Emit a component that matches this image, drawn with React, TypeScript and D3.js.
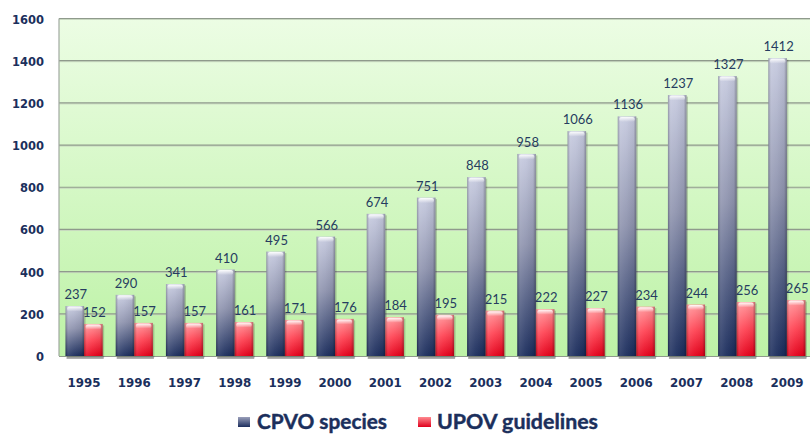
import React from "react";
import * as d3 from "d3";

const years = ["1995", "1996", "1997", "1998", "1999", "2000", "2001", "2002", "2003", "2004", "2005", "2006", "2007", "2008", "2009"];
const cpvoSpecies = [237, 290, 341, 410, 495, 566, 674, 751, 848, 958, 1066, 1136, 1237, 1327, 1412];
const upovGuidelines = [152, 157, 157, 161, 171, 176, 184, 195, 215, 222, 227, 234, 244, 256, 265];
const yTicks = [0, 200, 400, 600, 800, 1000, 1200, 1400, 1600];

const W = 810;
const H = 434;
const plot = { left: 59, right: 812, top: 18.5, bottom: 356 };

const navy = "#1b2f5c";

export default function App() {
  const y = d3.scaleLinear().domain([0, 1600]).range([plot.bottom, plot.top]);
  const x = d3.scaleBand<string>().domain(years).range([plot.left, plot.right]).paddingInner(0.26).paddingOuter(0.13);
  const bw = x.bandwidth() / 2;

  const series = [
    { key: "cpvo", values: cpvoSpecies, fill: "url(#gradCpvo)", off: 0 },
    { key: "upov", values: upovGuidelines, fill: "url(#gradUpov)", off: bw },
  ];

  return (
    <svg width={W} height={H} style={{ position: "absolute", left: 0, top: 0 }}>
      <defs>
        <linearGradient id="bg" x1="0" y1="0" x2="0" y2="1">
          <stop offset="0%" stopColor="#ecfde4" />
          <stop offset="100%" stopColor="#bdf2a6" />
        </linearGradient>
        <linearGradient id="gradCpvo" x1="0" y1="0" x2="0" y2="1">
          <stop offset="0%" stopColor="#c6cadf" />
          <stop offset="45%" stopColor="#8e93ae" />
          <stop offset="100%" stopColor="#1a2c5c" />
        </linearGradient>
        <linearGradient id="gradUpov" x1="0" y1="0" x2="0" y2="1">
          <stop offset="0%" stopColor="#ff9599" />
          <stop offset="50%" stopColor="#ff4454" />
          <stop offset="100%" stopColor="#e4001a" />
        </linearGradient>
        <linearGradient id="cyl" x1="0" y1="0" x2="1" y2="0">
          <stop offset="0%" stopColor="#000" stopOpacity={0.25} />
          <stop offset="15%" stopColor="#fff" stopOpacity={0.12} />
          <stop offset="45%" stopColor="#fff" stopOpacity={0.05} />
          <stop offset="85%" stopColor="#000" stopOpacity={0.05} />
          <stop offset="100%" stopColor="#000" stopOpacity={0.3} />
        </linearGradient>
        <linearGradient id="cap" x1="0" y1="0" x2="0" y2="1">
          <stop offset="0%" stopColor="#fff" stopOpacity={0.95} />
          <stop offset="100%" stopColor="#fff" stopOpacity={0} />
        </linearGradient>
        <linearGradient id="legCpvo" x1="0" y1="0" x2="0" y2="1">
          <stop offset="0%" stopColor="#9a9fba" />
          <stop offset="100%" stopColor="#1c2e5e" />
        </linearGradient>
        <linearGradient id="legUpov" x1="0" y1="0" x2="0" y2="1">
          <stop offset="0%" stopColor="#ff8a90" />
          <stop offset="100%" stopColor="#e0001c" />
        </linearGradient>
      </defs>

      <rect x={plot.left} y={plot.top} width={W - plot.left} height={plot.bottom - plot.top} fill="url(#bg)" />

      {yTicks.filter((t) => t > 0).map((t) => (
        <g key={t}>
          <line x1={plot.left} x2={W} y1={y(t) + 1} y2={y(t) + 1} stroke="#c8d8c0" strokeWidth={1} />
          <line x1={plot.left} x2={W} y1={y(t)} y2={y(t)} stroke="#8f9a8c" strokeWidth={1.2} />
        </g>
      ))}
      <line x1={plot.left} x2={plot.left} y1={plot.top} y2={plot.bottom} stroke="#a0a8a0" strokeWidth={1.2} />

      {/* shadows under each group */}
      {years.map((yr) => (
        <rect key={"sh" + yr} x={(x(yr) as number) + 1} y={plot.bottom} width={x.bandwidth()} height={3} fill="#9a9a9a" opacity={0.8} />
      ))}
      <line x1={plot.left} x2={W} y1={plot.bottom + 0.5} y2={plot.bottom + 0.5} stroke="#8f9a8c" strokeWidth={1} />

      {series.map((s) =>
        s.values.map((v, i) => {
          const bx = (x(years[i]) as number) + s.off;
          const by = y(v);
          const bh = plot.bottom - by;
          return (
            <g key={s.key + i}>
              <rect x={bx + 1.5} y={by + 1.5} width={bw} height={bh} fill="#000" opacity={0.18} />
              <rect x={bx} y={by} width={bw} height={bh} fill={s.fill} />
              <rect x={bx} y={by} width={bw} height={bh} fill="url(#cyl)" />
              <rect x={bx + 1.5} y={by + 0.5} width={bw - 3} height={5} rx={2.5} fill="url(#cap)" />
              <text
                x={bx + bw / 2 + 1}
                y={by - 7}
                textAnchor="middle"
                fontFamily="Lato, 'Open Sans', sans-serif"
                fontSize={13}
                fill="#263c60"
              >
                {v}
              </text>
            </g>
          );
        })
      )}

      {yTicks.map((t) => (
        <text
          key={"yt" + t}
          x={44}
          y={y(t) + 5}
          textAnchor="end"
          fontFamily="'DejaVu Sans', sans-serif"
          fontWeight="bold"
          fontSize={12.5}
          fill={navy}
          textLength={String(t).length * 8}
          lengthAdjust="spacingAndGlyphs"
        >
          {t}
        </text>
      ))}

      {years.map((yr) => (
        <text
          key={"xt" + yr}
          x={(x(yr) as number) + x.bandwidth() / 2}
          y={387}
          textAnchor="middle"
          fontFamily="'DejaVu Sans', sans-serif"
          fontWeight="bold"
          fontSize={12.5}
          fill={navy}
          textLength={33}
          lengthAdjust="spacingAndGlyphs"
        >
          {yr}
        </text>
      ))}

      <g>
        <rect x={238} y={417} width={12} height={10} fill="url(#legCpvo)" />
        <text x={257} y={429} fontFamily="Lato, sans-serif" fontWeight="bold" fontSize={20} fill={navy} textLength={130} lengthAdjust="spacingAndGlyphs" stroke={navy} strokeWidth={0.4}>
          CPVO species
        </text>
        <rect x={418} y={417} width={13} height={10} fill="url(#legUpov)" />
        <text x={437} y={429} fontFamily="Lato, sans-serif" fontWeight="bold" fontSize={20} fill={navy} textLength={161} lengthAdjust="spacingAndGlyphs" stroke={navy} strokeWidth={0.4}>
          UPOV guidelines
        </text>
      </g>
    </svg>
  );
}
